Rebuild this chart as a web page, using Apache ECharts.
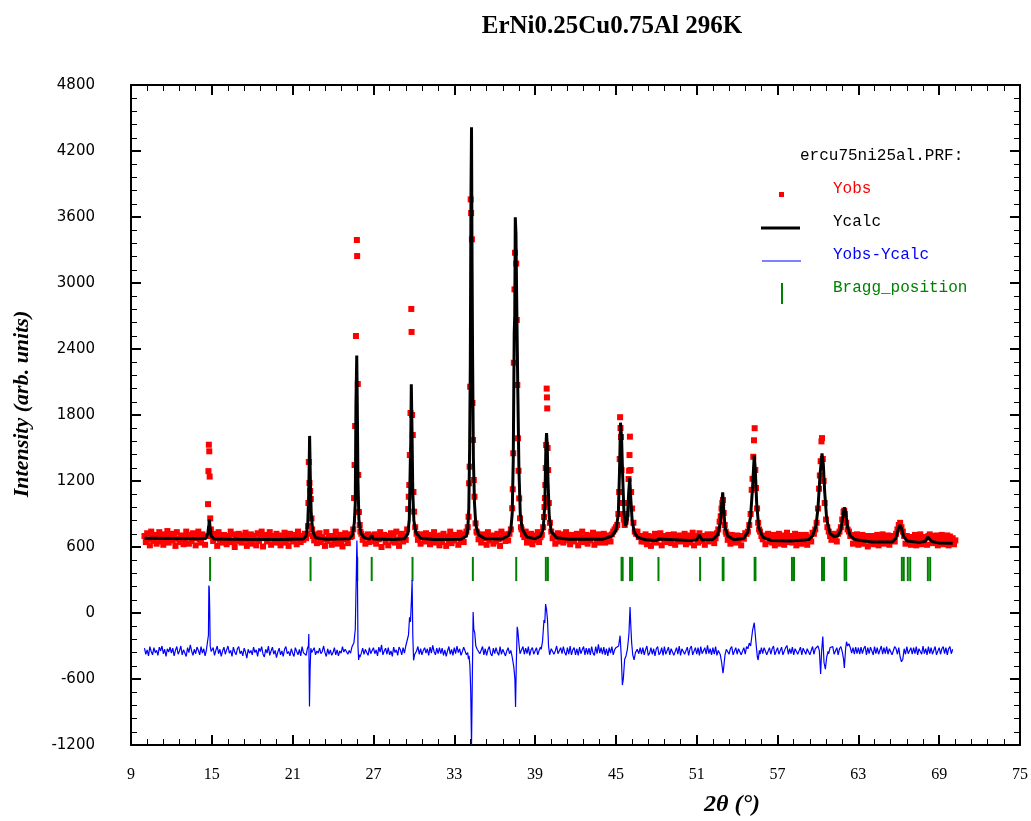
<!DOCTYPE html>
<html>
<head>
<meta charset="utf-8">
<script src="https://cdn.jsdelivr.net/npm/echarts@6/dist/echarts.min.js"></script>
<style>html,body{margin:0;padding:0;background:#fff;}#c{width:1031px;height:821px;}</style>
</head>
<body>
<div id="c"></div>
<script>
// ---- axis ticks ----
const xMin = 9, xMax = 75, xInterval = 6;
const yMin = -1200, yMax = 4800, yInterval = 600;

// ---- Yobs : background read on a 0.1 deg grid starting at 10.0 (null = peak core, given below) ----
const obsGridStart = 10.0, obsGridStep = 0.1;
const obsGrid = [
 700,645,725,670,615,740,690,655,710,630,
 685,735,650,700,620,715,665,745,640,690,
 720,660,700,610,735,675,645,705,690,625,
 665,740,695,630,710,655,725,680,615,700,
 740,670,640,715,690,620,700,null,null,null,
 700,655,720,680,610,735,665,695,640,710,
 675,625,700,660,740,645,715,600,685,655,
 720,680,640,705,665,730,610,690,650,715,
 630,700,670,615,725,655,690,740,605,680,
 710,650,690,735,620,675,700,640,720,660,
 685,615,705,665,730,640,695,610,720,670,
 650,710,675,625,740,690,645,700,665,720,
 680,720,null,null,null,700,660,715,635,690,
 725,645,690,670,610,735,655,700,680,620,
 700,665,740,630,685,710,650,605,690,725,
 670,635,715,690,700,null,null,null,null,null,
 null,720,665,700,630,690,715,645,705,680,
 655,715,630,690,670,735,600,685,710,645,
 700,615,680,725,650,695,640,740,665,610,
 690,720,650,705,665,null,null,null,null,null,
 null,null,720,665,700,630,715,690,650,725,
 675,710,625,690,655,735,640,700,670,615,
 705,645,720,680,610,695,660,740,635,690,
 660,710,685,620,730,670,700,645,715,740,
 null,null,null,null,null,null,null,730,670,700,
 640,715,680,700,620,735,660,690,705,630,
 695,650,720,670,610,740,685,700,655,715,
 660,720,null,null,null,null,null,null,null,null,
 760,715,690,740,640,705,665,720,625,690,
 660,705,735,645,690,710,null,null,null,null,
 null,null,740,680,705,630,690,725,650,700,
 715,640,690,735,660,700,625,710,675,650,
 690,720,615,700,665,740,645,685,710,630,
 705,660,690,730,620,695,670,715,640,700,
 665,720,640,705,685,700,650,715,740,760,
 780,null,null,null,null,null,null,null,null,null,
 null,null,null,null,null,720,740,690,700,650,
 690,650,715,625,700,670,610,695,660,720,
 640,705,680,725,615,690,665,700,645,710,
 695,635,680,715,620,690,670,705,650,685,
 660,720,625,690,705,640,680,730,615,695,
 700,640,725,690,655,700,620,685,715,650,
 690,665,715,635,680,725,null,null,null,null,
 null,null,720,665,700,630,710,660,690,640,
 705,650,690,615,700,675,725,720,740,null,
 null,null,null,null,null,null,null,740,700,670,
 705,625,690,720,650,680,640,710,615,690,
 665,720,630,690,705,620,680,730,645,695,
 700,640,685,720,615,690,660,710,630,695,
 655,710,620,690,680,650,730,720,760,null,
 null,null,null,null,null,null,null,780,740,700,
 665,720,690,700,650,720,740,null,null,null,
 null,null,null,740,700,710,630,690,655,715,
 620,690,665,710,630,680,700,605,690,655,
 700,625,685,650,710,615,690,660,715,630,
 680,640,705,620,690,665,700,650,720,760,
 800,820,780,740,700,630,700,655,690,620,
 690,650,710,615,685,660,715,625,690,655,
 685,620,700,715,700,635,680,650,705,615,
 690,650,710,625,685,660,705,615,695,650,
 680,625,660
];
// Yobs points on the peaks
const obsPeakX = [
 14.72,14.75,14.78,14.81,14.84,14.88,14.93,
 22.14,22.17,22.2,22.25,22.3,22.35,22.4,22.45,
 25.5,25.56,25.6,25.64,25.7,25.77,25.79,25.84,25.87,25.92,25.98,26.03,
 29.5,29.58,29.62,29.66,29.7,29.75,29.81,29.83,29.87,29.92,29.97,30.02,30.1,
 34.0,34.06,34.1,34.14,34.18,34.22,34.25,34.31,34.35,34.39,34.45,34.5,34.58,34.65,
 37.2,37.3,37.34,37.38,37.42,37.47,37.51,37.6,37.64,37.68,37.73,37.77,37.82,37.88,37.95,
 39.6,39.66,39.7,39.73,39.76,39.79,39.82,39.86,39.88,39.9,39.93,39.97,40.02,40.1,
 45.1,45.18,45.24,45.28,45.31,45.34,45.38,45.42,45.47,45.52,45.58,45.65,45.72,45.8,45.88,45.94,45.98,46.01,46.04,46.08,46.13,46.2,46.3,46.4,
 52.6,52.7,52.78,52.84,52.9,52.95,53.0,53.08,53.15,
 54.9,55.0,55.08,55.14,55.2,55.25,55.3,55.35,55.4,55.48,55.56,55.63,
 59.9,60.0,60.08,60.14,60.2,60.26,60.3,60.36,60.42,60.5,60.6,
 61.7,61.8,61.9,61.95,62.0,62.1,62.2
];
const obsPeakY = [
 990,1290,1530,1470,1240,860,760,
 790,1000,1373,1182,1109,1036,860,760,
 760,1045,1345,1700,2518,3391,3245,2082,1255,918,800,740,
 760,945,1057,1164,1436,1818,2764,2555,1800,1618,1100,921,780,
 780,875,1179,1330,2057,3760,3636,3397,1909,1573,1209,1057,815,740,
 760,952,1125,1452,2275,2942,3275,3177,2664,2073,1588,1293,1042,861,780,
 780,873,963,1045,1164,1318,1527,2040,1960,1860,1500,1300,1000,820,
 800,900,1100,1400,1780,1682,1600,1300,1000,900,850,800,830,900,1000,1218,1293,1436,1603,1300,1100,950,820,740,
 760,830,880,950,1000,1027,909,800,740,
 800,900,1120,1220,1420,1570,1680,1300,1136,950,820,760,
 820,950,1130,1250,1380,1560,1590,1400,1200,1000,850,
 780,850,918,930,900,820,760
];

// ---- Ycalc ----
const calcX = [
 10.0,12.0,14.0,14.55,14.7,14.78,14.82,14.87,14.95,15.2,17.0,20.0,21.8,22.0,22.12,22.2,22.26,22.31,22.38,22.5,22.7,23.5,
 25.2,25.45,25.58,25.65,25.7,25.76,25.8,25.85,25.92,26.05,26.3,26.7,26.87,27.0,28.5,
 29.3,29.55,29.66,29.74,29.77,29.81,29.86,29.92,30.0,30.15,30.5,31.5,33.5,
 33.9,34.0,34.08,34.14,34.19,34.24,34.28,34.32,34.36,34.42,34.5,34.6,34.8,35.3,36.5,
 37.0,37.2,37.3,37.38,37.45,37.49,37.53,37.58,37.62,37.66,37.72,37.8,37.9,38.05,38.4,39.0,
 39.4,39.6,39.72,39.8,39.85,39.9,39.96,40.05,40.2,40.6,41.5,44.0,
 44.7,45.0,45.18,45.27,45.34,45.42,45.5,45.6,45.72,45.85,45.95,46.03,46.1,46.2,46.35,46.6,47.2,
 48.0,48.16,48.3,50.5,51.0,51.2,51.4,52.2,52.55,52.75,52.85,52.93,53.0,53.1,53.3,53.8,
 54.5,54.8,55.0,55.15,55.27,55.35,55.45,55.6,55.9,56.5,58.0,
 59.3,59.6,59.85,60.0,60.15,60.3,60.4,60.5,60.65,60.9,61.2,61.5,61.7,61.85,61.96,62.05,62.2,62.4,62.8,
 64.0,65.5,65.8,65.95,66.1,66.2,66.35,66.6,67.5,67.95,68.15,68.25,68.45,69.0,70.0
];
const calcY = [
 680,678,675,680,720,800,850,780,700,672,670,669,672,700,800,1100,1610,1250,900,740,685,670,
 675,710,820,1000,1900,2340,1900,1200,850,730,685,672,705,672,668,
 675,720,850,1400,1545,2080,1680,1100,840,730,680,668,670,
 700,760,950,1500,2250,3800,4415,3200,2330,1400,1000,800,710,675,672,
 700,760,900,1400,2545,2700,3597,3450,3000,2590,2000,1300,900,760,690,675,
 700,760,980,1500,1636,1530,1200,880,740,685,670,670,
 700,750,900,1300,1730,1600,1250,900,790,850,1100,1230,1050,850,740,690,665,
 660,672,660,660,664,710,664,668,710,820,980,1096,950,780,700,665,
 680,740,880,1150,1436,1300,1000,780,690,660,655,
 665,700,790,950,1250,1450,1350,1100,850,720,695,705,760,880,960,920,780,700,665,
 645,645,680,760,800,770,700,655,642,650,690,695,650,637,634
];

// ---- Yobs-Ycalc : 0.1 deg grid from 10.0 (null = spike region, given below) ----
const diffGridStart = 10.0, diffGridStep = 0.1;
const diffGrid = [
 -320,-375,-335,-390,-305,-350,-380,-315,-360,-340,
 -385,-310,-345,-300,-370,-330,-395,-325,-355,-310,
 -365,-320,-390,-340,-305,-375,-345,-300,-380,-335,
 -350,-395,-315,-360,-290,-345,-385,-330,-370,-310,
 -340,-380,-305,-365,-325,-390,-335,null,null,null,
 -360,-315,-385,-340,-300,-370,-330,-395,-345,-310,
 -375,-335,-300,-365,-340,-395,-310,-355,-380,-325,
 -305,-370,-345,-390,-320,-355,-410,-330,-365,-340,
 -380,-310,-360,-335,-395,-320,-350,-305,-375,-400,
 -330,-365,-300,-385,-345,-310,-375,-340,-405,-355,
 -320,-380,-345,-395,-330,-305,-370,-350,-390,-325,
 -365,-395,-315,-350,-380,-330,-390,-305,-360,-345,
 -385,-320,null,null,null,-370,-315,-380,-345,-365,
 -320,-370,-350,-300,-360,-395,-325,-375,-335,-385,
 -360,-315,-380,-335,-390,-345,-365,-305,-355,-330,
 -320,-375,-340,-365,-310,-300,null,null,null,null,
 -400,-365,-320,-375,-330,-360,-385,-315,-370,-340,
 -315,-370,-335,-390,-310,-355,-290,-380,-345,-320,
 -375,-315,-380,-345,-395,-310,-360,-335,-385,-310,
 -335,-380,-315,-365,-300,null,null,null,null,null,
 null,-395,-345,-305,-375,-325,-380,-340,-315,-365,
 -325,-385,-310,-365,-295,-350,-380,-320,-370,-315,
 -370,-320,-385,-335,-395,-345,-305,-375,-330,-385,
 -315,-370,-300,-360,-325,-385,-350,-310,-295,-380,
 null,null,null,null,null,null,null,null,-315,-370,
 -365,-305,-380,-325,-385,-335,-305,-370,-390,-320,
 -370,-315,-360,-385,-305,-375,-330,-315,-390,-345,
 -315,-370,null,null,null,null,null,null,null,-380,
 -355,-305,-375,-320,-370,-305,-385,-335,-315,-375,
 -365,-315,-380,-340,-310,null,null,null,null,null,
 null,-380,-325,-315,-375,-345,-300,-370,-385,-315,
 -370,-305,-360,-385,-315,-375,-300,-380,-335,-315,
 -380,-325,-385,-310,-370,-335,-305,-380,-320,-375,
 -320,-380,-305,-365,-385,-305,-370,-285,-365,-315,
 -375,-310,-380,-325,-390,-315,-365,-305,-380,-335,
 -315,null,null,null,null,null,null,null,null,null,
 null,null,null,null,null,null,null,-370,-315,-375,
 -315,-380,-335,-300,-385,-365,-315,-375,-325,-390,
 -325,-305,-380,-360,-315,-385,-305,-375,-365,-310,
 -380,-325,-315,-385,-370,-315,-375,-300,-385,-325,
 -315,-375,-365,-310,-385,-325,-300,-380,-370,-315,
 -375,-315,-385,-305,-370,-380,-315,-375,-295,-370,
 -325,-380,-315,-375,-305,-385,null,null,null,null,
 null,null,null,-315,-375,-325,-305,-380,-370,-315,
 -375,-325,-310,-380,-370,-315,-375,-305,-325,null,
 null,null,null,null,null,null,null,-375,-315,-370,
 -315,-305,-380,-370,-315,-375,-325,-300,-380,-370,
 -315,-375,-365,-310,-380,-370,-315,-295,-375,-325,
 -370,-310,-380,-325,-315,-375,-370,-310,-380,-320,
 -315,-375,-325,-310,-380,-370,-305,-375,-325,null,
 null,null,null,null,null,null,null,null,-370,-315,
 -325,-305,-375,-370,-315,-380,-325,-305,null,null,
 null,null,null,-280,-315,-365,-315,-375,-310,-370,
 -315,-375,-310,-370,-325,-300,-380,-315,-370,-310,
 -325,-380,-305,-370,-315,-375,-365,-300,-375,-315,
 -370,-305,-375,-325,-315,-380,-370,-305,-325,-375,
 -315,-400,-443,-420,-325,-375,-305,-370,-365,-315,
 -375,-315,-370,-305,-380,-325,-315,-375,-300,-370,
 -325,-380,-305,-370,-315,-375,-365,-305,-380,-370,
 -315,-375,-325,-305,-370,-315,-380,-325,-305,-370,
 -330
];
const diffSpikeX = [
 14.7,14.75,14.78,14.81,14.84,14.88,14.95,
 22.17,22.2,22.25,22.3,22.35,22.42,
 25.55,25.65,25.72,25.77,25.8,25.85,25.9,25.95,
 29.5,29.6,29.68,29.75,29.82,29.87,29.92,29.98,30.05,
 34.0,34.05,34.1,34.16,34.22,34.28,34.34,34.4,34.45,34.52,34.6,34.7,
 37.2,37.3,37.42,37.5,37.55,37.6,37.67,37.72,37.8,37.88,
 39.45,39.55,39.66,39.72,39.78,39.85,39.92,40.0,40.08,
 45.1,45.2,45.31,45.4,45.48,45.55,45.65,45.75,45.85,45.92,45.97,46.05,46.1,46.17,46.25,46.35,46.45,46.58,
 52.6,52.75,52.85,52.95,53.0,53.1,53.2,
 54.9,55.0,55.15,55.27,55.35,55.4,55.5,55.56,55.65,
 59.9,60.0,60.1,60.2,60.27,60.36,60.45,60.55,60.65,60.75,
 61.8,61.9,61.96,62.05,62.12,62.2
];
const diffSpikeY = [
 -330,-200,250,230,60,-300,-350,
 -300,-190,-850,-500,-320,-360,
 -270,-150,300,660,500,-300,-427,-380,
 -300,-200,-40,-80,120,300,-200,-430,-380,
 -360,-420,-390,-480,-700,-1200,-600,10,-150,-180,-300,-330,
 -340,-400,-490,-600,-855,-500,-125,-160,-280,-370,
 -330,-260,-64,-90,82,30,-60,-300,-380,
 -330,-300,-206,-400,-655,-600,-420,-390,-330,-250,-182,54,-100,-273,-380,-427,-360,-330,
 -340,-380,-450,-548,-500,-380,-330,
 -273,-300,-155,-88,-200,-273,-400,-427,-340,
 -330,-300,-340,-555,-350,-215,-450,-510,-400,-350,
 -350,-420,-500,-330,-261,-300
];

// ---- Bragg positions ----
const braggPos = [14.87,22.33,25.8,26.87,29.9,34.38,37.6,39.8,39.95,45.42,45.5,46.05,46.2,48.16,51.25,
 52.93,52.99,55.3,55.36,58.07,58.22,60.3,60.45,61.98,62.1,66.23,66.37,66.67,66.85,68.16,68.33];
const braggLow = 290, braggHigh = 510;

// ---- build series data ----
function gridPairs(start, step, arr) {
  const out = [];
  arr.forEach((v, i) => { if (v !== null) out.push([+(start + i * step).toFixed(2), v]); });
  return out;
}
const obsData = gridPairs(obsGridStart, obsGridStep, obsGrid)
  .concat(obsPeakX.map((x, i) => [x, obsPeakY[i]]));
const calcData = calcX.map((x, i) => [x, calcY[i]]);
const diffData = gridPairs(diffGridStart, diffGridStep, diffGrid)
  .concat(diffSpikeX.map((x, i) => [x, diffSpikeY[i]]))
  .sort((a, b) => a[0] - b[0]);

const chart = echarts.init(document.getElementById('c'), null, {renderer: 'canvas'});
const axisLine = {show: true, onZero: false, lineStyle: {color: '#000', width: 2}};
const tick = {show: true, inside: true, length: 10, lineStyle: {color: '#000', width: 2}};
const minor = {show: true, splitNumber: 5, length: 6, lineStyle: {color: '#000', width: 1}};

chart.setOption({
  animation: false,
  backgroundColor: '#fff',
  grid: {left: 131, right: 11, top: 85, bottom: 76, outerBoundsMode: 'none', containLabel: false},
  xAxis: [
    {type: 'value', min: xMin, max: xMax, interval: xInterval, position: 'bottom',
     axisLine, axisTick: tick, minorTick: minor, splitLine: {show: false},
     axisLabel: {margin: 22, color: '#000', fontFamily: 'Liberation Serif', fontSize: 16, formatter: v => String(v)}},
    {type: 'value', min: xMin, max: xMax, interval: xInterval, position: 'top',
     axisLine, axisTick: tick, minorTick: minor, splitLine: {show: false}, axisLabel: {show: false}}
  ],
  yAxis: [
    {type: 'value', min: yMin, max: yMax, interval: yInterval, position: 'left',
     axisLine, axisTick: tick, minorTick: minor, splitLine: {show: false},
     axisLabel: {margin: 36, color: '#000', fontFamily: 'DejaVu Sans', fontSize: 15, formatter: v => String(v)}},
    {type: 'value', min: yMin, max: yMax, interval: yInterval, position: 'right',
     axisLine, axisTick: tick, minorTick: minor, splitLine: {show: false}, axisLabel: {show: false}}
  ],
  series: [
    {type: 'scatter', name: 'Yobs', data: obsData, symbol: 'rect', symbolSize: 6,
     itemStyle: {color: '#ff0000', opacity: 1}, z: 2},
    {type: 'line', name: 'Ycalc', data: calcData, showSymbol: false, symbol: 'none',
     lineStyle: {color: '#000', width: 3}, z: 3},
    {type: 'custom', name: 'Bragg_position', data: braggPos.map(x => [x, braggLow, braggHigh]),
     encode: {x: 0, y: [1, 2]}, z: 4,
     renderItem: (params, api) => {
       const p1 = api.coord([api.value(0), api.value(1)]);
       const p2 = api.coord([api.value(0), api.value(2)]);
       return {type: 'line', shape: {x1: p1[0], y1: p1[1], x2: p2[0], y2: p2[1]},
               style: {stroke: '#008000', lineWidth: 2}};
     }},
    {type: 'line', name: 'Yobs-Ycalc', data: diffData, showSymbol: false, symbol: 'none',
     lineStyle: {color: '#0000ff', width: 1.2}, z: 5}
  ],
  graphic: [
    {type: 'text', x: 612, y: 27, z: 10,
     style: {text: 'ErNi0.25Cu0.75Al 296K', align: 'center', verticalAlign: 'middle', font: 'bold 25px "Liberation Serif"', fill: '#000'}},
    {type: 'text', x: 22, y: 404, rotation: Math.PI / 2, z: 10,
     style: {text: 'Intensity (arb. units)', align: 'center', verticalAlign: 'middle', font: 'bold italic 22px "Liberation Serif"', fill: '#000'}},
    {type: 'text', x: 732, y: 805, z: 10,
     style: {text: '2θ (°)', align: 'center', verticalAlign: 'middle', font: 'bold italic 24px "Liberation Serif"', fill: '#000'}},
    {type: 'text', x: 800, y: 156, z: 10,
     style: {text: 'ercu75ni25al.PRF:', verticalAlign: 'middle', font: '16px "Liberation Mono"', fill: '#000'}},
    {type: 'rect', shape: {x: 779, y: 192, width: 5, height: 5}, style: {fill: '#ff0000'}, z: 10},
    {type: 'text', x: 833, y: 189, z: 10,
     style: {text: 'Yobs', verticalAlign: 'middle', font: '16px "Liberation Mono"', fill: '#ff0000'}},
    {type: 'line', shape: {x1: 761, y1: 228, x2: 800, y2: 228}, style: {stroke: '#000', lineWidth: 3}, z: 10},
    {type: 'text', x: 833, y: 222, z: 10,
     style: {text: 'Ycalc', verticalAlign: 'middle', font: '16px "Liberation Mono"', fill: '#000'}},
    {type: 'line', shape: {x1: 762, y1: 261, x2: 801, y2: 261}, style: {stroke: '#0000ff', lineWidth: 1.2}, z: 10},
    {type: 'text', x: 833, y: 255, z: 10,
     style: {text: 'Yobs-Ycalc', verticalAlign: 'middle', font: '16px "Liberation Mono"', fill: '#0000ff'}},
    {type: 'line', shape: {x1: 782, y1: 283, x2: 782, y2: 304}, style: {stroke: '#008000', lineWidth: 2}, z: 10},
    {type: 'text', x: 833, y: 288, z: 10,
     style: {text: 'Bragg_position', verticalAlign: 'middle', font: '16px "Liberation Mono"', fill: '#008000'}}
  ]
});
</script>
</body>
</html>
